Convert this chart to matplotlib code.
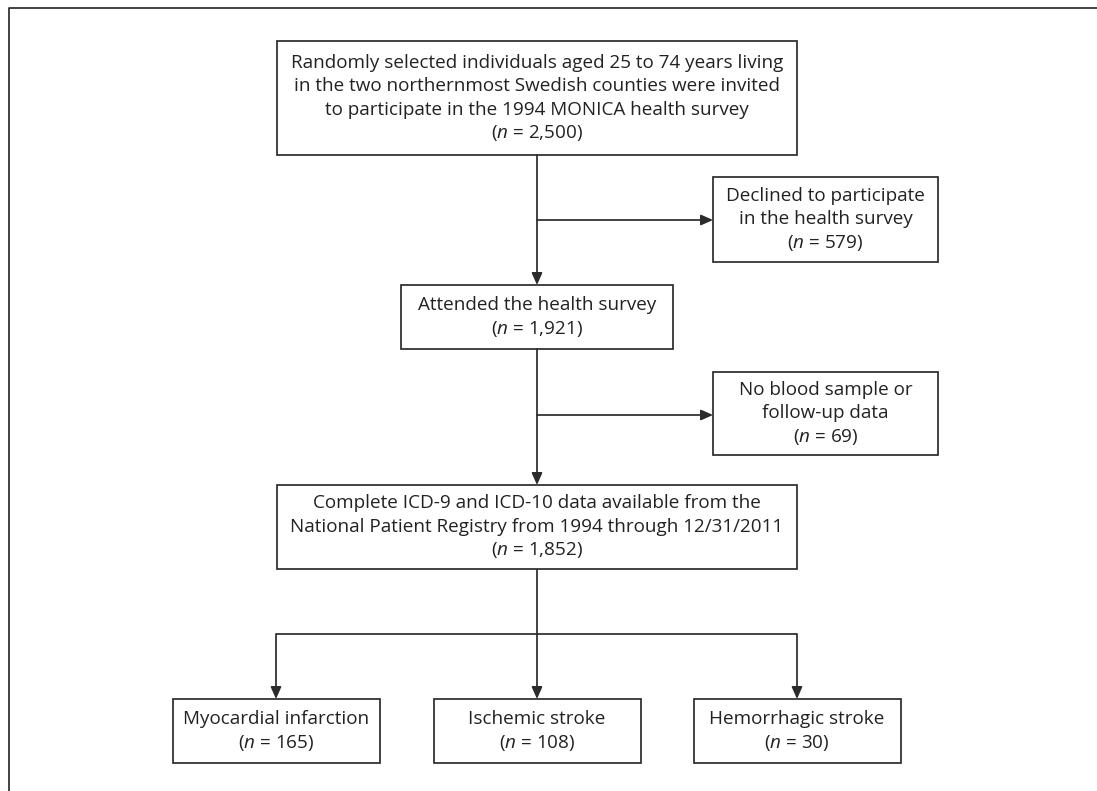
import matplotlib
matplotlib.use("Agg")
import matplotlib.pyplot as plt
from matplotlib.patches import Rectangle

plt.rcParams['font.family'] = ['Open Sans', 'DejaVu Sans']
plt.rcParams['mathtext.fontset'] = 'custom'
plt.rcParams['mathtext.it'] = 'Open Sans:italic'
plt.rcParams['mathtext.rm'] = 'Open Sans'

# ---- data ----
invited_text = ["Randomly selected individuals aged 25 to 74 years living",
                "in the two northernmost Swedish counties were invited",
                "to participate in the 1994 MONICA health survey"]
invited_n = 2500
declined_text = ["Declined to participate", "in the health survey"]
declined_n = 579
attended_text = ["Attended the health survey"]
attended_n = 1921
excluded_text = ["No blood sample or", "follow-up data"]
excluded_n = 69
complete_text = ["Complete ICD-9 and ICD-10 data available from the",
                 "National Patient Registry from 1994 through 12/31/2011"]
complete_n = 1852
outcome_labels = ["Myocardial infarction", "Ischemic stroke", "Hemorrhagic stroke"]
outcome_n = [165, 108, 30]

# ---- layout ----
W, H = 1097, 791
fig = plt.figure(figsize=(W / 100, H / 100), dpi=100)
ax = fig.add_axes([0, 0, 1, 1])
ax.set_xlim(0, W)
ax.set_ylim(H, 0)
ax.axis('off')

LC = '#2b2b2b'
TC = '#222222'
LW = 1.25
FS = 13.6
PITCH = 23.5

def box(x0, x1, y0, y1, lines, n):
    ax.add_patch(Rectangle((x0, y0), x1 - x0, y1 - y0, fill=False,
                           edgecolor=LC, lw=LW, zorder=2))
    all_lines = list(lines) + [r"($\mathit{n}$ = " + f"{n:,})"]
    k = len(all_lines)
    cx = (x0 + x1) / 2
    cy = (y0 + y1) / 2
    for i, t in enumerate(all_lines):
        ax.text(cx, cy + (i - (k - 1) / 2) * PITCH, t, ha='center', va='center',
                fontsize=FS, color=TC, zorder=3)

def line(xs, ys):
    ax.plot(xs, ys, color=LC, lw=LW, solid_capstyle='butt', zorder=1)

def arrow(x0, y0, x1, y1):
    ax.annotate('', xy=(x1, y1), xytext=(x0, y0),
                arrowprops=dict(arrowstyle='-|>,head_length=0.45,head_width=0.2',
                                mutation_scale=16, lw=LW, color=LC,
                                shrinkA=0, shrinkB=0), zorder=1)

# outer frame
line([9, 9, W], [H, 8, 8])

CX = 537
box(277, 797, 41, 155, invited_text, invited_n)
box(713, 938, 177, 262, declined_text, declined_n)
box(401, 673, 285, 349, attended_text, attended_n)
box(713, 938, 372, 455, excluded_text, excluded_n)
box(277, 797, 485, 569, complete_text, complete_n)

arrow(CX, 155, CX, 285)
arrow(CX, 220, 713, 220)
arrow(CX, 349, CX, 485)
arrow(CX, 415, 713, 415)

outcome_x = [276, 537, 797]
BW = 207
line([CX, CX], [569, 634])
line([outcome_x[0], outcome_x[-1]], [634, 634])
for x, lab, n in zip(outcome_x, outcome_labels, outcome_n):
    arrow(x, 634, x, 699)
    box(x - BW / 2, x + BW / 2, 699, 763, [lab], n)

fig.savefig("out.png", dpi=100, facecolor='white')
